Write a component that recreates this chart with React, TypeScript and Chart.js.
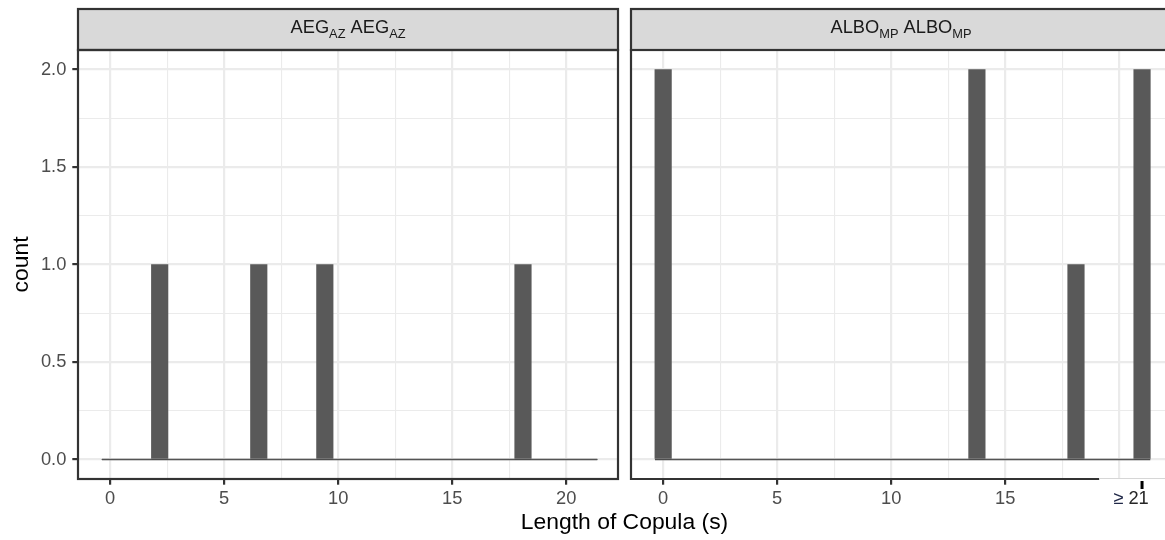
import React, { useEffect, useRef } from 'react';
import { Chart, registerables } from 'chart.js';

Chart.register(...registerables);

// ---- histogram data (30 bins spanning 0 .. 21 s) ----
const BIN_COUNT = 30;
const X_LAST_CENTER = 21;
const BIN_WIDTH = X_LAST_CENTER / (BIN_COUNT - 1);
const binCenters: number[] = Array.from({ length: BIN_COUNT }, (_, i) => i * BIN_WIDTH);

// counts per bin, AEG_AZ facet
const aegCounts = [0, 0, 0, 1, 0, 0, 0, 0, 0, 1, 0, 0, 0, 1, 0, 0, 0, 0, 0, 0, 0, 0, 0, 0, 0, 1, 0, 0, 0, 0];
// counts per bin, ALBO_MP facet
const alboCounts = [2, 0, 0, 0, 0, 0, 0, 0, 0, 0, 0, 0, 0, 0, 0, 0, 0, 0, 0, 2, 0, 0, 0, 0, 0, 1, 0, 0, 0, 2];

// ---- axis breaks ----
const xBreaks = [0, 2.5, 5, 7.5, 10, 12.5, 15, 17.5, 20];
const xMajorStep = 5;
const yBreaks = [0, 0.25, 0.5, 0.75, 1, 1.25, 1.5, 1.75, 2];
const yMajorStep = 0.5;
const X_RANGE = [-1.41, 22.27];
const Y_RANGE = [-0.1, 2.1];
const OVERFLOW_BREAK = 21;
const OVERFLOW_LABEL_PREFIX = '\u2265 ';
const OVERFLOW_LABEL_VALUE = '21';
const AXIS_CUT_VALUE = 19.12;

const X_TITLE = 'Length of Copula (s)';
const Y_TITLE = 'count';

// ---- style ----
const FONT = "'Liberation Sans', Arial, Helvetica, sans-serif";
const BAR_COLOR = '#595959';
const GRID_COLOR = '#ebebeb';
const BORDER_COLOR = '#333333';
const STRIP_FILL = '#d9d9d9';
const TICK_TEXT = '#4d4d4d';
const TICK_SIZE = 18.3;
const TITLE_SIZE = 22.9;
const LINE_W = 2.2;
const STRIP_TOP = 9;

type LabelPart = { text: string; sub?: boolean };

const isMajor = (v: number, step: number) => Math.abs(v / step - Math.round(v / step)) < 1e-6;

function drawStripLabel(ctx: CanvasRenderingContext2D, parts: LabelPart[], cx: number, baseline: number) {
  const mainFont = `${TICK_SIZE}px ${FONT}`;
  const subFont = `${TICK_SIZE * 0.7}px ${FONT}`;
  let total = 0;
  const widths = parts.map((p) => {
    ctx.font = p.sub ? subFont : mainFont;
    const w = ctx.measureText(p.text).width;
    total += w;
    return w;
  });
  let x = cx - total / 2;
  ctx.fillStyle = '#1a1a1a';
  ctx.textAlign = 'left';
  ctx.textBaseline = 'alphabetic';
  parts.forEach((p, i) => {
    ctx.font = p.sub ? subFont : mainFont;
    ctx.fillText(p.text, x, p.sub ? baseline + 4.4 : baseline);
    x += widths[i];
  });
}

type PanelSpec = {
  counts: number[];
  strip: LabelPart[];
  padding: { left: number; right: number; top: number; bottom: number };
  showY: boolean;
  leftPanel: boolean;
};

function buildConfig(p: PanelSpec): any {
  const decor = {
    id: 'facetDecor',
    afterDraw(chart: any) {
      const { ctx, chartArea: a } = chart;
      const xs = chart.scales.x;
      const w = a.right - a.left;
      ctx.save();
      // strip
      ctx.fillStyle = STRIP_FILL;
      ctx.fillRect(a.left, STRIP_TOP, w, a.top - STRIP_TOP);
      ctx.strokeStyle = BORDER_COLOR;
      ctx.lineWidth = LINE_W;
      ctx.strokeRect(a.left, STRIP_TOP, w, a.top - STRIP_TOP);
      drawStripLabel(ctx, p.strip, (a.left + a.right) / 2, 33.3);

      // panel border
      ctx.strokeStyle = BORDER_COLOR;
      ctx.lineWidth = LINE_W;
      if (p.leftPanel) {
        ctx.strokeRect(a.left, a.top, w, a.bottom - a.top);
      } else {
        const cut = xs.getPixelForValue(AXIS_CUT_VALUE);
        ctx.beginPath();
        ctx.moveTo(cut, a.bottom);
        ctx.lineTo(a.left, a.bottom);
        ctx.lineTo(a.left, a.top);
        ctx.lineTo(a.right, a.top);
        ctx.lineTo(a.right, a.bottom);
        ctx.stroke();
        ctx.strokeStyle = '#d6d6d6';
        ctx.lineWidth = 1;
        ctx.beginPath();
        ctx.moveTo(cut, a.bottom - 0.5);
        ctx.lineTo(a.right, a.bottom - 0.5);
        ctx.stroke();

        // open-ended last break
        const px = xs.getPixelForValue(OVERFLOW_BREAK);
        ctx.fillStyle = '#000';
        ctx.fillRect(px - 1.5, a.bottom + 2, 3, 8);
        ctx.font = `${TICK_SIZE}px ${FONT}`;
        ctx.textBaseline = 'middle';
        ctx.textAlign = 'left';
        const w1 = ctx.measureText(OVERFLOW_LABEL_PREFIX).width;
        const w2 = ctx.measureText(OVERFLOW_LABEL_VALUE).width;
        const x0 = px - 11 - (w1 + w2) / 2;
        ctx.fillStyle = '#1f2747';
        ctx.fillText(OVERFLOW_LABEL_PREFIX, x0, 498.5);
        ctx.fillStyle = '#262626';
        ctx.fillText(OVERFLOW_LABEL_VALUE, x0 + w1, 498.5);
      }

      if (p.leftPanel) {
        // shared axis titles
        ctx.fillStyle = '#000';
        ctx.font = `${TITLE_SIZE}px ${FONT}`;
        ctx.textAlign = 'center';
        ctx.textBaseline = 'middle';
        ctx.fillText(X_TITLE, 624.5, 523);
        ctx.save();
        ctx.translate(28.3, (a.top + a.bottom) / 2);
        ctx.rotate(-Math.PI / 2);
        ctx.textBaseline = 'alphabetic';
        ctx.fillText(Y_TITLE, 0, 0);
        ctx.restore();
      }
      ctx.restore();
    },
  };

  const firstEdge = binCenters[0] - BIN_WIDTH / 2;
  const lastEdge = binCenters[binCenters.length - 1] + BIN_WIDTH / 2;

  return {
    type: 'bar',
    data: {
      datasets: [
        {
          type: 'bar',
          data: binCenters.map((x, i) => ({ x, y: p.counts[i] })),
          backgroundColor: BAR_COLOR,
          borderWidth: 0,
          barPercentage: 1,
          categoryPercentage: 1,
          order: 0,
        },
        {
          type: 'line',
          data: [
            { x: firstEdge, y: 0 },
            { x: lastEdge, y: 0 },
          ],
          borderColor: '#4d4d4d',
          borderWidth: 1.3,
          pointRadius: 0,
          order: 1,
        },
      ],
    },
    options: {
      responsive: false,
      animation: false,
      events: [],
      layout: { padding: p.padding },
      plugins: { legend: { display: false }, tooltip: { enabled: false } },
      scales: {
        x: {
          type: 'linear',
          min: X_RANGE[0],
          max: X_RANGE[1],
          offset: false,
          afterFit(s: any) {
            s.height = 61;
          },
          afterBuildTicks(s: any) {
            s.ticks = xBreaks.map((value) => ({ value }));
          },
          ticks: {
            autoSkip: false,
            maxRotation: 0,
            minRotation: 0,
            padding: 3,
            color: TICK_TEXT,
            font: { family: FONT, size: TICK_SIZE },
            callback: (v: number) => {
              if (!isMajor(v, xMajorStep)) return '';
              if (!p.leftPanel && v >= AXIS_CUT_VALUE) return '';
              return String(v);
            },
          },
          grid: {
            offset: false,
            color: GRID_COLOR,
            lineWidth: (c: any) => (isMajor(c.tick.value, xMajorStep) ? LINE_W : LINE_W / 2),
            drawTicks: true,
            tickLength: 5.7,
            tickWidth: LINE_W,
            tickColor: (c: any) => {
              const v = c.tick.value;
              if (!isMajor(v, xMajorStep)) return 'rgba(0,0,0,0)';
              if (!p.leftPanel && v >= AXIS_CUT_VALUE) return 'rgba(0,0,0,0)';
              return BORDER_COLOR;
            },
          },
          border: { display: false },
        },
        y: {
          type: 'linear',
          min: Y_RANGE[0],
          max: Y_RANGE[1],
          afterFit(s: any) {
            s.width = p.showY ? 78 : 0;
          },
          afterBuildTicks(s: any) {
            s.ticks = yBreaks.map((value) => ({ value }));
          },
          ticks: {
            display: p.showY,
            autoSkip: false,
            padding: 6,
            color: TICK_TEXT,
            font: { family: FONT, size: TICK_SIZE },
            callback: (v: number) => (isMajor(v, yMajorStep) ? v.toFixed(1) : ''),
          },
          grid: {
            color: GRID_COLOR,
            lineWidth: (c: any) => (isMajor(c.tick.value, yMajorStep) ? LINE_W : LINE_W / 2),
            drawTicks: p.showY,
            tickLength: p.showY ? 5.7 : 0,
            tickWidth: LINE_W,
            tickColor: (c: any) => (isMajor(c.tick.value, yMajorStep) ? BORDER_COLOR : 'rgba(0,0,0,0)'),
          },
          border: { display: false },
        },
      },
    },
    plugins: [decor],
  };
}

const aegStrip: LabelPart[] = [
  { text: 'AEG' },
  { text: 'AZ', sub: true },
  { text: ' AEG' },
  { text: 'AZ', sub: true },
];
const alboStrip: LabelPart[] = [
  { text: 'ALBO' },
  { text: 'MP', sub: true },
  { text: ' ALBO' },
  { text: 'MP', sub: true },
];

export default function App() {
  const leftRef = useRef<HTMLCanvasElement | null>(null);
  const rightRef = useRef<HTMLCanvasElement | null>(null);

  useEffect(() => {
    const left = new Chart(
      leftRef.current as HTMLCanvasElement,
      buildConfig({
        counts: aegCounts,
        strip: aegStrip,
        padding: { left: 0, right: 547, top: 50, bottom: 0 },
        showY: true,
        leftPanel: true,
      })
    );
    const right = new Chart(
      rightRef.current as HTMLCanvasElement,
      buildConfig({
        counts: alboCounts,
        strip: alboStrip,
        padding: { left: 631, right: 9, top: 50, bottom: 0 },
        showY: false,
        leftPanel: false,
      })
    );
    return () => {
      left.destroy();
      right.destroy();
    };
  }, []);

  return (
    <div
      style={{
        position: 'absolute',
        left: 0,
        top: 0,
        width: 1165,
        height: 540,
        overflow: 'hidden',
        background: '#ffffff',
      }}
    >
      <canvas ref={leftRef} width={1165} height={540} style={{ position: 'absolute', left: 0, top: 0 }} />
      <canvas ref={rightRef} width={1180} height={540} style={{ position: 'absolute', left: 0, top: 0 }} />
    </div>
  );
}
